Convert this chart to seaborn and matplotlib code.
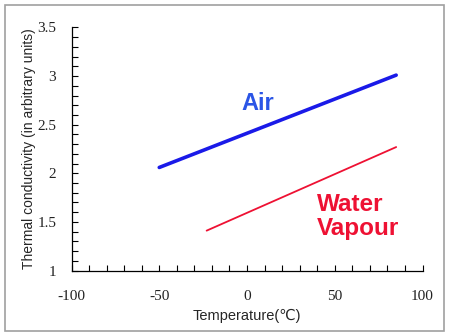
import matplotlib
matplotlib.use("Agg")
import matplotlib.pyplot as plt
import seaborn as sns
import pandas as pd
from matplotlib.patches import Rectangle
from matplotlib.ticker import MultipleLocator

# Data
air_temp = [-50, 85]
air_cond = [2.06, 3.01]
vap_temp = [-23, 85]
vap_cond = [1.41, 2.27]

x_ticks = [-100, -50, 0, 50, 100]
y_ticks = [1, 1.5, 2, 2.5, 3, 3.5]
x_ticklabels = ["-100", "-50", "0", "50", "100"]
y_ticklabels = ["1", "1.5", "2", "2.5", "3", "3.5"]

sns.set_style("white")
plt.rcParams['font.family'] = ['Liberation Sans', 'DejaVu Sans']

fig = plt.figure(figsize=(4.5, 3.35), dpi=100)
ax = fig.add_axes([71.5/450, 64.5/335, 351/450, 243/335])

df_air = pd.DataFrame({"T": air_temp, "k": air_cond})
df_vap = pd.DataFrame({"T": vap_temp, "k": vap_cond})
sns.lineplot(data=df_air, x="T", y="k", ax=ax, color="#1a1ae8", linewidth=2.6)
sns.lineplot(data=df_vap, x="T", y="k", ax=ax, color="#ee1133", linewidth=1.3)

ax.set_xlim(-100, 100)
ax.set_ylim(1, 3.5)
ax.set_xticks(x_ticks)
ax.set_yticks(y_ticks)
ax.set_xticklabels(x_ticklabels, family="Liberation Serif", fontsize=11, color="#222222")
ax.set_yticklabels(y_ticklabels, family="Liberation Serif", fontsize=11, color="#222222")
ax.xaxis.set_minor_locator(MultipleLocator(10))
ax.yaxis.set_minor_locator(MultipleLocator(0.1))
ax.tick_params(axis="both", which="both", direction="in", color="black", width=0.8,
               bottom=True, left=True, top=False, right=False)
ax.tick_params(axis="x", which="both", length=4, pad=14)
ax.tick_params(axis="y", which="both", length=4, pad=11)

for s in ["top", "right"]:
    ax.spines[s].set_visible(False)
for s in ["left", "bottom"]:
    ax.spines[s].set_color("black")
    ax.spines[s].set_linewidth(0.9)

ax.set_xlabel("Temperature(℃)", fontsize=10.5, labelpad=4)
ax.set_ylabel("Thermal conductivity (in arbitrary units)", fontsize=10, labelpad=1)

ax.text(6, 2.72, "Air", color="#2b55e6", fontsize=17, fontweight="bold",
        ha="center", va="center")
ax.text(40, 1.68, "Water", color="#ee1133", fontsize=17.5, fontweight="bold",
        ha="left", va="center")
ax.text(40, 1.43, "Vapour", color="#ee1133", fontsize=17.5, fontweight="bold",
        ha="left", va="center")

fig.patches.append(Rectangle((4.5/450, 4.5/335), 439/450, 325.5/335,
                             transform=fig.transFigure, fill=False,
                             edgecolor="#a0a0a0", linewidth=1.2))

fig.savefig("out.png", dpi=100)
